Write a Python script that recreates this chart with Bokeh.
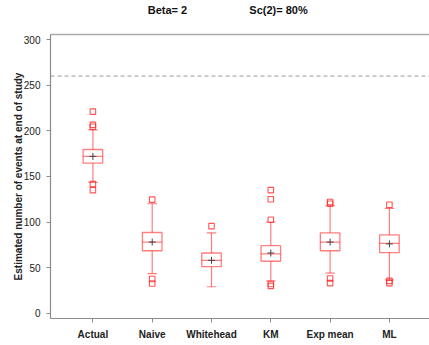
from bokeh.plotting import figure
from bokeh.models import (FixedTicker, Range1d, LinearAxis, Span,
                          ColumnDataSource)
from bokeh.embed import file_html
from bokeh.resources import INLINE

# ---- data ----
cats = ["Actual", "Naive", "Whitehead", "KM", "Exp mean", "ML"]
q1 = [164.5, 68.5, 51.0, 57.0, 68.5, 66.5]
median = [172.0, 78.0, 58.0, 65.0, 78.0, 76.5]
q3 = [179.5, 88.5, 66.0, 74.0, 88.0, 86.0]
mean = [172.0, 78.0, 58.0, 66.0, 78.0, 76.0]
whisk_lo = [143.5, 43.5, 29.0, 35.5, 44.0, 36.5]
whisk_hi = [201.0, 120.0, 88.0, 100.0, 118.0, 115.0]
outliers = [
    [221.0, 206.5, 204.5, 141.5, 135.0],
    [124.5, 37.5, 32.5],
    [95.5],
    [135.0, 125.0, 102.5, 32.0, 30.0],
    [122.0, 120.0, 38.0, 33.0],
    [119.0, 35.5, 33.0],
]
reference_line = 260
y_ticks = [0, 50, 100, 150, 200, 250, 300]
title_left = "Beta= 2"
title_right = "Sc(2)= 80%"
y_label = "Estimated number of events at end of study"

xs = list(range(1, len(cats) + 1))
RED = "#ff2a2a"
GRAY = "#8c8c8c"
FONT = "Liberation Sans"

p = figure(width=429, height=345, output_backend="svg", toolbar_location=None,
           x_range=Range1d(0.285, 6.676), y_range=Range1d(-5.8, 305.6),
           min_border_left=50, min_border_right=0, min_border_top=34,
           min_border_bottom=27)
p.outline_line_color = None
p.grid.visible = False
p.background_fill_color = "white"

src = ColumnDataSource(dict(x=xs, q1=q1, q3=q3, med=median, mean=mean,
                            lo=whisk_lo, hi=whisk_hi))
bw = 0.33
cw = 0.16
# whiskers
p.segment(x0="x", y0="q3", x1="x", y1="hi", source=src, line_color=RED,
          line_alpha=0.6, line_width=1.2)
p.segment(x0="x", y0="q1", x1="x", y1="lo", source=src, line_color=RED,
          line_alpha=0.6, line_width=1.2)
# caps
for col in ("hi", "lo"):
    src.data[col + "_l"] = [x - cw / 2 for x in xs]
    src.data[col + "_r"] = [x + cw / 2 for x in xs]
    p.segment(x0=col + "_l", y0=col, x1=col + "_r", y1=col, source=src,
              line_color=RED, line_alpha=0.6, line_width=1.2)
# boxes
p.vbar(x="x", bottom="q1", top="q3", width=bw, source=src, fill_color=None,
       line_color=RED, line_alpha=0.6, line_width=1.3)
# medians
src.data["bl"] = [x - bw / 2 for x in xs]
src.data["br"] = [x + bw / 2 for x in xs]
p.segment(x0="bl", y0="med", x1="br", y1="med", source=src, line_color=RED,
          line_alpha=0.6, line_width=1.2)
# means
p.scatter(x="x", y="mean", source=src, marker="cross", size=7,
          line_color="#444444", line_width=1.0)
# outliers
ox, oy = [], []
for x, vals in zip(xs, outliers):
    for v in vals:
        ox.append(x)
        oy.append(v)
p.scatter(ox, oy, marker="square", size=5.5, fill_color=None, line_color=RED,
          line_alpha=0.8, line_width=1.1)

# dashed reference line
p.add_layout(Span(location=reference_line, dimension="width",
                  line_color="#999999", line_dash="4 3", line_width=1))

# axes
for ax in (p.xaxis[0], p.yaxis[0]):
    ax.axis_line_color = GRAY
    ax.axis_line_width = 1.2
    ax.major_tick_line_color = GRAY
    ax.major_tick_out = 4
    ax.major_tick_in = 0
    ax.minor_tick_line_color = None
    ax.major_label_text_font = FONT
    ax.major_label_text_color = "#222222"
p.xaxis.ticker = FixedTicker(ticks=xs)
p.xaxis.major_label_overrides = {x: c for x, c in zip(xs, cats)}
p.xaxis.major_label_text_font_style = "bold"
p.xaxis.major_label_text_font_size = "10px"
p.xaxis.major_label_standoff = 6
p.yaxis.ticker = FixedTicker(ticks=y_ticks)
p.yaxis.major_label_text_font_size = "10px"
p.yaxis.major_label_standoff = 6
p.yaxis.axis_label = y_label
p.yaxis.axis_label_text_font = FONT
p.yaxis.axis_label_text_font_style = "bold"
p.yaxis.axis_label_text_font_size = "10px"
p.yaxis.axis_label_text_color = "#222222"
p.yaxis.axis_label_standoff = -3

# top frame line carrying the two heading texts
title_pos = [2.258, 4.13]
top = LinearAxis(ticker=FixedTicker(ticks=title_pos),
                 major_label_overrides={title_pos[0]: title_left,
                                        title_pos[1]: title_right},
                 axis_line_color="#aaaaaa", axis_line_width=1.5,
                 major_tick_line_color=None, minor_tick_line_color=None,
                 major_label_text_font=FONT, major_label_text_font_style="bold",
                 major_label_text_font_size="11px",
                 major_label_text_color="#111111",
                 major_label_standoff=13)
p.add_layout(top, "above")

open("out.html", "w").write(file_html(p, INLINE))
